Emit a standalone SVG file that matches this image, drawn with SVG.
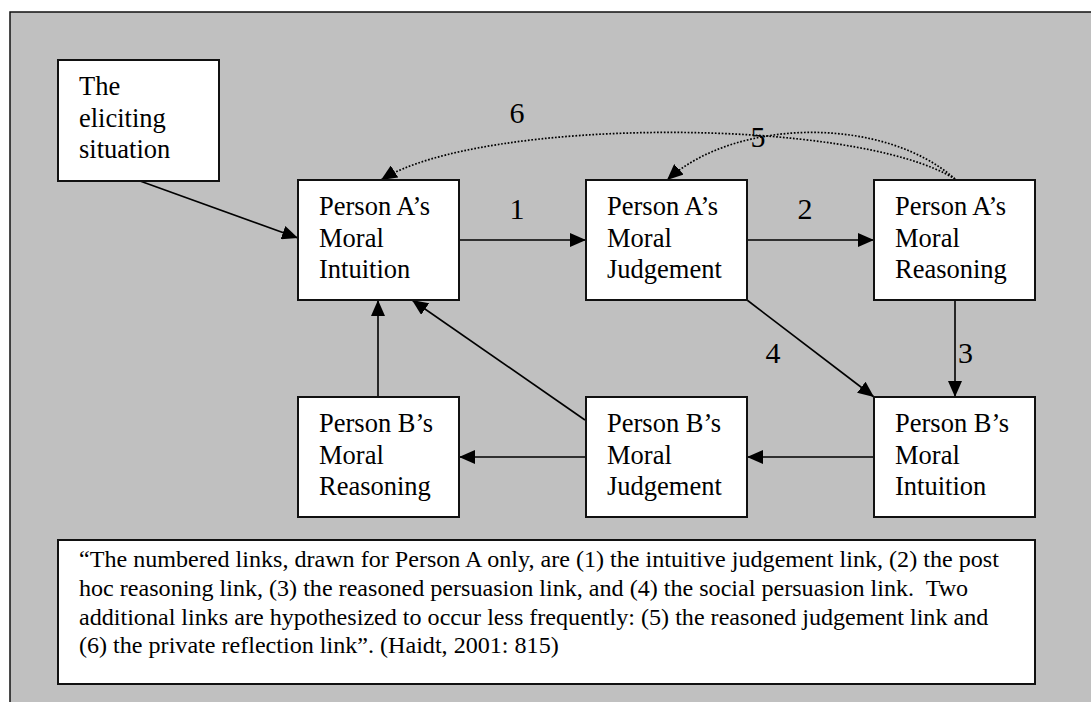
<svg xmlns="http://www.w3.org/2000/svg" width="1091" height="702" viewBox="0 0 1091 702">
  <style>
    .box { fill: #ffffff; stroke: #111111; stroke-width: 2; }
    .t { font-size: 26.5px; fill: #000000; }
    .lbl { font-size: 30px; fill: #000000; }
    .body { font-size: 24.1px; fill: #000000; }
    .ln { fill: none; stroke: #000000; stroke-width: 1.6; }
    .dot { fill: none; stroke: #000000; stroke-width: 1.7; stroke-dasharray: 1.7 1.7; }
  </style>
  <defs>
    <marker id="ah" markerUnits="userSpaceOnUse" markerWidth="16" markerHeight="14" refX="16" refY="7" orient="auto">
      <path d="M0,0 L16,7 L0,14 z" fill="#000000"/>
    </marker>
  </defs>

  <rect id="background" x="10" y="12" width="1090" height="700" fill="#c0c0c0" stroke="#111111" stroke-width="1.5"/>

  <g font-family="'Liberation Serif', 'DejaVu Serif', serif">
  <g id="connectors">
    <line class="ln" x1="140" y1="181" x2="298" y2="238" marker-end="url(#ah)"/>
    <line class="ln" x1="459" y1="240" x2="586" y2="240" marker-end="url(#ah)"/>
    <line class="ln" x1="747" y1="240" x2="874" y2="240" marker-end="url(#ah)"/>
    <line class="ln" x1="955" y1="300" x2="955" y2="397" marker-end="url(#ah)"/>
    <line class="ln" x1="747" y1="300" x2="874" y2="397" marker-end="url(#ah)"/>
    <line class="ln" x1="874" y1="457" x2="747" y2="457" marker-end="url(#ah)"/>
    <line class="ln" x1="586" y1="457" x2="459" y2="457" marker-end="url(#ah)"/>
    <line class="ln" x1="378" y1="397" x2="378" y2="300" marker-end="url(#ah)"/>
    <line class="ln" x1="585" y1="420" x2="412" y2="300" marker-end="url(#ah)"/>
    <path class="dot" d="M955,179 C855,116.7 481,116.7 381,180" marker-end="url(#ah)"/>
    <path class="dot" d="M955,179 C885,116.7 737,116.7 667,180" marker-end="url(#ah)"/>
    <text class="lbl" x="517" y="219" text-anchor="middle">1</text>
    <text class="lbl" x="805" y="219" text-anchor="middle">2</text>
    <text class="lbl" x="958" y="363">3</text>
    <text class="lbl" x="773" y="363" text-anchor="middle">4</text>
    <text class="lbl" x="758" y="147" text-anchor="middle">5</text>
    <text class="lbl" x="517" y="123" text-anchor="middle">6</text>
  </g>

  <g id="eliciting">
    <rect class="box" x="58" y="60" width="161" height="121"/>
    <text class="t" x="79" y="95">The</text>
    <text class="t" x="79" y="126.5">eliciting</text>
    <text class="t" x="79" y="158">situation</text>
  </g>

  <g id="a-intuition">
    <rect class="box" x="298" y="180" width="161" height="120"/>
    <text class="t" x="319" y="215">Person A’s</text>
    <text class="t" x="319" y="246.5">Moral</text>
    <text class="t" x="319" y="278">Intuition</text>
  </g>

  <g id="a-judgement">
    <rect class="box" x="586" y="180" width="161" height="120"/>
    <text class="t" x="607" y="215">Person A’s</text>
    <text class="t" x="607" y="246.5">Moral</text>
    <text class="t" x="607" y="278">Judgement</text>
  </g>

  <g id="a-reasoning">
    <rect class="box" x="874" y="180" width="161" height="120"/>
    <text class="t" x="895" y="215">Person A’s</text>
    <text class="t" x="895" y="246.5">Moral</text>
    <text class="t" x="895" y="278">Reasoning</text>
  </g>

  <g id="b-reasoning">
    <rect class="box" x="298" y="397" width="161" height="120"/>
    <text class="t" x="319" y="432">Person B’s</text>
    <text class="t" x="319" y="463.5">Moral</text>
    <text class="t" x="319" y="495">Reasoning</text>
  </g>

  <g id="b-judgement">
    <rect class="box" x="586" y="397" width="161" height="120"/>
    <text class="t" x="607" y="432">Person B’s</text>
    <text class="t" x="607" y="463.5">Moral</text>
    <text class="t" x="607" y="495">Judgement</text>
  </g>

  <g id="b-intuition">
    <rect class="box" x="874" y="397" width="161" height="120"/>
    <text class="t" x="895" y="432">Person B’s</text>
    <text class="t" x="895" y="463.5">Moral</text>
    <text class="t" x="895" y="495">Intuition</text>
  </g>

  <g id="quote">
    <rect class="box" x="58" y="540" width="977" height="144"/>
    <text class="body" x="79" y="567" xml:space="preserve">“The numbered links, drawn for Person A only, are (1) the intuitive judgement link, (2) the post</text>
    <text class="body" x="79" y="596" xml:space="preserve">hoc reasoning link, (3) the reasoned persuasion link, and (4) the social persuasion link.  Two</text>
    <text class="body" x="79" y="624.5" xml:space="preserve">additional links are hypothesized to occur less frequently: (5) the reasoned judgement link and</text>
    <text class="body" x="79" y="653" xml:space="preserve">(6) the private reflection link”. (Haidt, 2001: 815)</text>
  </g>
  </g>
</svg>
